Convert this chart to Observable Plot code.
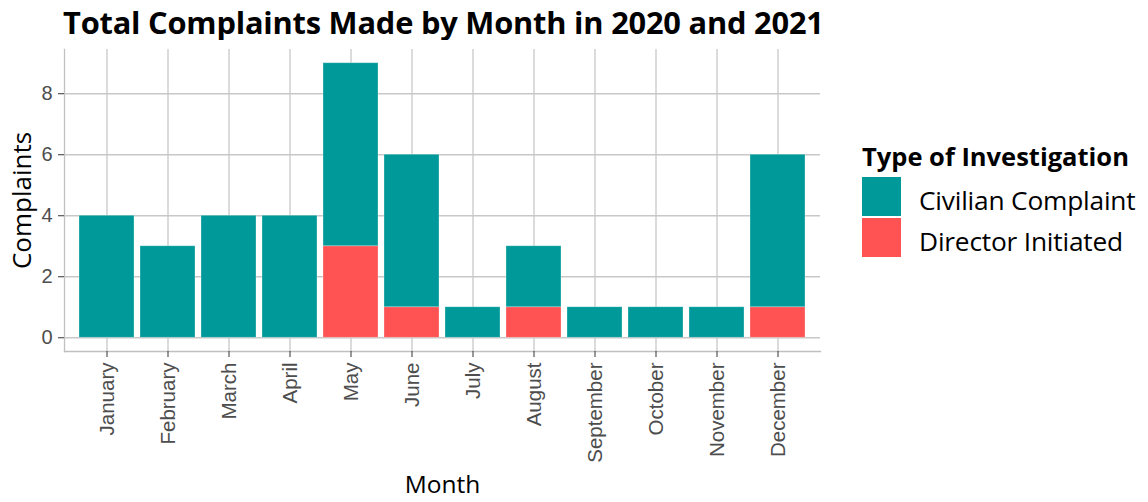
<!DOCTYPE html>
<html>
<head>
<meta charset="utf-8">
<script src="https://cdn.jsdelivr.net/npm/d3@7"></script>
<script src="https://cdn.jsdelivr.net/npm/@observablehq/plot@0.6"></script>
<style>
  html, body { margin: 0; padding: 0; background: #fff; }
  #wrap { position: relative; width: 1148px; height: 502px; overflow: hidden; }
  #title { position: absolute; left: 63px; top: 0; height: 40px; line-height: 44px;
    font-family: "Open Sans", sans-serif; font-weight: 700; font-size: 30.8px; color: #000; white-space: nowrap; letter-spacing: -0.2px; }
  #chart { position: absolute; left: 0; top: 40px; }
  #legend { position: absolute; left: 862px; top: 136px; font-family: "Open Sans", sans-serif; color: #000; }
  #legend .lt { font-weight: 700; font-size: 25.5px; height: 40px; line-height: 40px; white-space: nowrap; }
  #legend .row { display: flex; align-items: center; height: 41px; }
  #legend .sw { width: 39px; height: 39px; margin-right: 18px; }
  #legend .lab { font-size: 26.3px; white-space: nowrap; position: relative; top: 3px; letter-spacing: -0.2px; }
</style>
</head>
<body>
<div id="wrap">
  <div id="title">Total Complaints Made by Month in 2020 and 2021</div>
  <div id="chart"></div>
  <div id="legend"></div>
</div>
<script>
const months = ["January","February","March","April","May","June","July","August","September","October","November","December"];
const types = ["Civilian Complaint","Director Initiated"];
const colors = ["#009999","#FF5252"];
const civilian = [4,3,4,4,6,5,1,2,1,1,1,5];
const director = [0,0,0,0,3,1,0,1,0,0,0,1];
const yTicks = [0,2,4,6,8];

const data = [];
months.forEach((m, i) => {
  data.push({month: m, type: types[1], n: director[i]});
  data.push({month: m, type: types[0], n: civilian[i]});
});

const titleFont = "'Open Sans', sans-serif";

const chart = Plot.plot({
  width: 840,
  height: 462,
  marginTop: 9,
  marginBottom: 151,
  marginLeft: 64,
  marginRight: 20,
  style: {fontFamily: "'Liberation Sans', Arial, sans-serif", background: "#fff"},
  x: {domain: months, paddingInner: 0.1, paddingOuter: 0.15, label: null},
  y: {domain: [-0.45, 9.45], label: null},
  color: {domain: types, range: colors},
  marks: [
    Plot.gridY(yTicks, {stroke: "#c8c8c8", strokeOpacity: 1, strokeWidth: 1.3}),
    Plot.gridX(months, {stroke: "#c8c8c8", strokeOpacity: 1, strokeWidth: 1.3}),
    Plot.barY(data, {x: "month", y: "n", fill: "type", order: [types[1], types[0]], stroke: "#ffffff", strokeOpacity: 0.35, strokeWidth: 0.8}),
    Plot.frame({anchor: "left", stroke: "#c0c0c0", strokeWidth: 1.3}),
    Plot.frame({anchor: "bottom", stroke: "#c0c0c0", strokeWidth: 1.3}),
    Plot.axisY({ticks: yTicks, tickSize: 6, tickPadding: 6, fontSize: 20, fill: "#4d4d4d", stroke: "#333", label: null}),
    Plot.axisX({tickSize: 6, tickPadding: 5, fontSize: 20.5, fill: "#4d4d4d", stroke: "#333", tickRotate: -90, label: null}),
    Plot.text(["Complaints"], {frameAnchor: "left", textAnchor: "middle", rotate: -90, dx: -42, fontSize: 26, fontFamily: titleFont, fill: "#000", lineAnchor: "middle"}),
    Plot.text(["Month"], {frameAnchor: "bottom", textAnchor: "middle", dy: 134, fontSize: 24.5, fontFamily: titleFont, fill: "#000", lineAnchor: "middle"})
  ]
});
document.getElementById("chart").appendChild(chart);

const legend = document.getElementById("legend");
const lt = document.createElement("div");
lt.className = "lt";
lt.textContent = "Type of Investigation";
legend.appendChild(lt);
types.forEach((t, i) => {
  const row = document.createElement("div");
  row.className = "row";
  const sw = document.createElement("div");
  sw.className = "sw";
  sw.style.background = colors[i];
  const lab = document.createElement("div");
  lab.className = "lab";
  lab.textContent = t;
  row.appendChild(sw);
  row.appendChild(lab);
  legend.appendChild(row);
});
</script>
</body>
</html>
